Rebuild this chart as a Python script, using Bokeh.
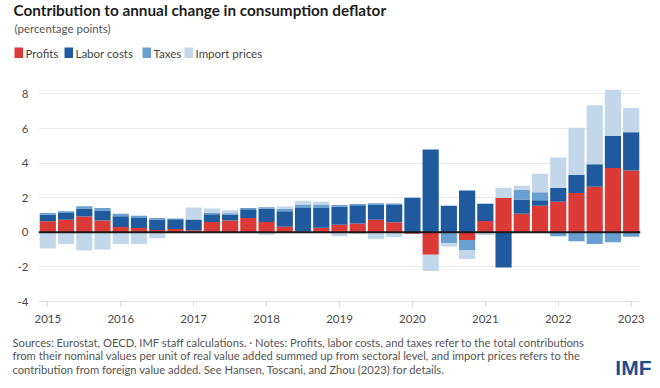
from bokeh.plotting import figure
from bokeh.layouts import column
from bokeh.models import (ColumnDataSource, Span, FixedTicker, Range1d)
from bokeh.core.properties import value
from bokeh.embed import file_html
from bokeh.resources import INLINE

periods = ["2015Q1", "2015Q2", "2015Q3", "2015Q4", "2016Q1", "2016Q2", "2016Q3", "2016Q4",
           "2017Q1", "2017Q2", "2017Q3", "2017Q4", "2018Q1", "2018Q2", "2018Q3", "2018Q4",
           "2019Q1", "2019Q2", "2019Q3", "2019Q4", "2020Q1", "2020Q2", "2020Q3", "2020Q4",
           "2021Q1", "2021Q2", "2021Q3", "2021Q4", "2022Q1", "2022Q2", "2022Q3", "2022Q4",
           "2023Q1"]
profits = [0.64, 0.72, 0.91, 0.68, 0.31, 0.25, 0.14, 0.19, 0.12, 0.60, 0.68, 0.83, 0.60, 0.32, 0.05, 0.26,
           0.44, 0.51, 0.72, 0.58, -0.08, -1.30, 0.00, -0.45, 0.66, 2.00, 1.07, 1.53, 1.76, 2.27, 2.64, 3.72,
           3.57]
labor = [0.37, 0.40, 0.47, 0.58, 0.62, 0.58, 0.60, 0.57, 0.62, 0.45, 0.35, 0.50, 0.76, 0.90, 1.35, 1.15,
         1.04, 1.05, 0.88, 1.00, 2.00, 4.79, 1.53, 2.42, 0.99, -2.03, 0.83, 0.33, 0.80, 1.04, 1.29, 1.86,
         2.21]
taxes = [0.10, 0.10, 0.12, 0.15, 0.14, 0.12, 0.09, 0.04, 0.00, 0.06, 0.07, 0.08, 0.09, 0.14, 0.20, 0.20,
         0.10, 0.08, 0.08, 0.08, 0.00, 0.00, -0.64, -0.58, 0.00, 0.00, 0.56, 0.45, -0.23, -0.52, -0.68, -0.58,
         -0.25]
imports = [-0.93, -0.68, -1.05, -1.00, -0.68, -0.68, -0.35, 0.00, 0.69, 0.27, 0.18, 0.00, -0.14, 0.13, 0.23, 0.15,
           -0.23, -0.10, -0.40, -0.27, 0.00, -0.93, -0.18, -0.52, -0.15, 0.57, 0.23, 1.08, 1.76, 2.74, 3.41, 2.66,
           1.41]
series_names = ["Profits", "Labor costs", "Taxes", "Import prices"]
series_colors = ["#DC3A36", "#1F5A9F", "#6A9FD1", "#C3D7EA"]
year_ticks = [2015, 2016, 2017, 2018, 2019, 2020, 2021, 2022, 2023]
y_ticks = [-4, -2, 0, 2, 4, 6, 8]

title_text = "Contribution to annual change in consumption deflator"
subtitle_text = "(percentage points)"
footer_lines = [
    "Sources: Eurostat, OECD, IMF staff calculations. \u00b7 Notes: Profits, labor costs, and taxes refer to the total contributions",
    "from their nominal values per unit of real value added summed up from sectoral level, and import prices refers to the",
    "contribution from foreign value added. See Hansen, Toscani, and Zhou (2023) for details.",
]
logo_text = "IMF"

FONT = "Lato"
W = 660


def blank_fig(h):
    f = figure(width=W, height=h, output_backend="svg", toolbar_location=None,
               x_range=Range1d(0, W), y_range=Range1d(h, 0),
               x_axis_location=None, y_axis_location=None, frame_align=False,
               min_border=0, min_border_left=0, min_border_right=0,
               min_border_top=0, min_border_bottom=0)
    f.grid.visible = False
    f.outline_line_color = None
    return f


# ---------- header (title, subtitle, legend) ----------
header = blank_fig(72)
header.text(x=[13], y=[9.5], text=[title_text], text_font=value(FONT), text_font_size="15.3px",
            text_font_style="bold", text_color="#1e1e1e", text_baseline="middle")
header.text(x=[14], y=[27.5], text=[subtitle_text], text_font=value(FONT), text_font_size="11.5px",
            text_color="#555555", text_baseline="middle")
# legend layout (swatch left edges, px)
sw_left = [14, 64, 142, 184]
leg = ColumnDataSource(dict(left=sw_left, right=[v + 8.5 for v in sw_left],
                            tx=[v + 11 for v in sw_left], name=series_names, color=series_colors))
header.quad(left="left", right="right", top=47, bottom=57.5, fill_color="color", line_color=None, source=leg)
header.text(x="tx", y=52.5, text="name", source=leg, text_font=value(FONT), text_font_size="11.5px",
            text_color="#444444", text_baseline="middle")

# ---------- main chart ----------
xs = [int(pd[:4]) + (int(pd[5]) - 1) / 4 for pd in periods]

p = figure(width=W, height=258, output_backend="svg", toolbar_location=None,
           x_range=Range1d(2014.872, 2023.128), y_range=Range1d(-4, 8.775), frame_align=False,
           min_border_left=38, min_border_right=20, min_border_top=8, min_border_bottom=29)
p.outline_line_color = None

pos = [0.0] * len(xs)
neg = [0.0] * len(xs)
for name, vals, col in zip(series_names, [profits, labor, taxes, imports], series_colors):
    tops, bottoms = [], []
    for i, v in enumerate(vals):
        if v >= 0:
            bottoms.append(pos[i]); tops.append(pos[i] + v); pos[i] += v
        else:
            bottoms.append(neg[i]); tops.append(neg[i] + v); neg[i] += v
    src = ColumnDataSource(dict(x=xs, top=tops, bottom=bottoms))
    p.vbar(x="x", width=0.222, top="top", bottom="bottom", source=src,
           fill_color=col, line_color=None)

p.add_layout(Span(location=0, dimension="width", line_color="#1a1a1a", line_width=2))

p.xaxis.ticker = FixedTicker(ticks=year_ticks)
p.xaxis.axis_line_color = "#e3e3e3"
p.xaxis.major_tick_line_color = "#dcdcdc"
p.xaxis.major_tick_out = 5
p.xaxis.major_tick_in = 0
p.xaxis.minor_tick_line_color = None
p.xaxis.major_label_standoff = 8
p.xaxis.major_label_text_font = FONT
p.xaxis.major_label_text_font_size = "11.5px"
p.xaxis.major_label_text_color = "#4a4a4a"

p.yaxis.ticker = FixedTicker(ticks=y_ticks)
p.yaxis.major_label_overrides = {-4: "-4", -2: "-2"}
p.yaxis.axis_line_color = None
p.yaxis.major_tick_line_color = None
p.yaxis.minor_tick_line_color = None
p.yaxis.major_label_standoff = 4
p.yaxis.major_label_text_font = FONT
p.yaxis.major_label_text_font_size = "11.5px"
p.yaxis.major_label_text_color = "#4a4a4a"

p.xgrid.grid_line_color = None
p.ygrid.grid_line_color = "#e8e8e8"
p.ygrid.grid_line_width = 1

# ---------- footer ----------
footer = blank_fig(58)
footer.text(x=[12, 12, 12], y=[12, 25.3, 38.6], text=footer_lines, text_font=value(FONT),
            text_font_size="11.2px", text_color="#555555", text_baseline="middle")
footer.text(x=[651], y=[37], text=[logo_text], text_font=value("Liberation Sans"), text_font_size="21px",
            text_font_style="bold", text_color="#1D4F8F", text_baseline="middle", text_align="right")

layout = column(header, p, footer, spacing=0)
open("out.html", "w").write(file_html(layout, INLINE))
